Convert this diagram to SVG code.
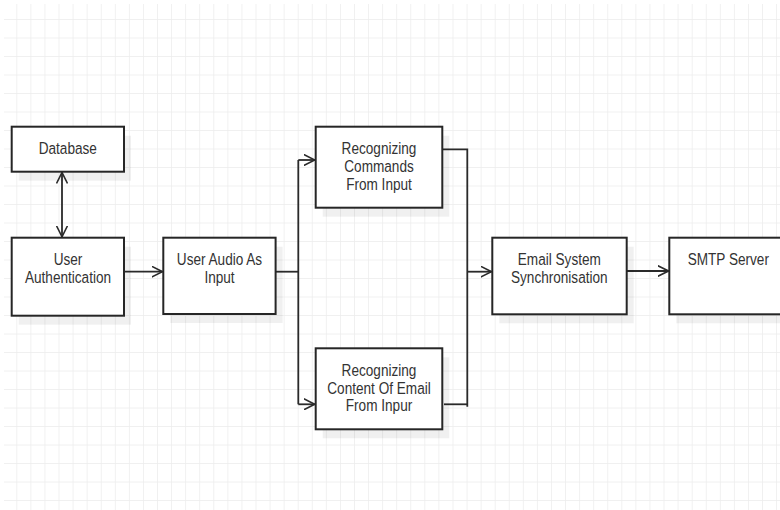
<svg xmlns="http://www.w3.org/2000/svg" width="780" height="510" viewBox="0 0 780 510">
<defs>
<pattern id="grid" x="3.2" y="1.5" width="14.07" height="18.5" patternUnits="userSpaceOnUse">
<path d="M14.07 0V18.5M0 18.5H14.07" fill="none" stroke="#ececec" stroke-width="1.4"/>
</pattern>
<marker id="arr" viewBox="0 0 12 12" refX="11" refY="6" markerWidth="12" markerHeight="12" markerUnits="userSpaceOnUse" orient="auto-start-reverse">
<path d="M0 0.5L11 6L0 11.5" fill="none" stroke="#2a2a2a" stroke-width="1.6"/>
</marker>
</defs>
<style>
.box{fill:#fff;stroke:#262626;stroke-width:2}
.sh{fill:#000;fill-opacity:0.06}
.t{font-family:"Liberation Sans",Arial,sans-serif;font-size:17px;fill:#333;text-anchor:middle}
.c{fill:none;stroke:#2a2a2a;stroke-width:1.8}
</style>
<rect width="780" height="510" fill="#fff"/>
<rect x="4" y="4" width="776" height="506" fill="url(#grid)"/>

<g id="connectors">
<path class="c" d="M62 172.5V236.8" marker-start="url(#arr)" marker-end="url(#arr)"/>
<path class="c" d="M122 271.7H162.5" marker-end="url(#arr)"/>
<path class="c" d="M275.7 271.7H298.3"/>
<path class="c" d="M298.3 160V404.3"/>
<path class="c" d="M298.3 160H314.8" marker-end="url(#arr)"/>
<path class="c" d="M298.3 404.3H314.8" marker-end="url(#arr)"/>
<path class="c" d="M442.3 149.3H467.3V406.7"/>
<path class="c" d="M444 404.3H467.3"/>
<path class="c" d="M467.3 271.7H491.5" marker-end="url(#arr)"/>
<path class="c" d="M626.7 271H668.5" marker-end="url(#arr)"/>
</g>

<g id="database">
<rect class="sh" x="18.7" y="135.7" width="112.3" height="45"/>
<rect class="box" x="11.7" y="126.7" width="112.3" height="45"/>
<text class="t" transform="translate(67.8 0) scale(0.8 1)" x="0" y="154">Database</text>
</g>

<g id="user-authentication">
<rect class="sh" x="18.7" y="246.7" width="112.3" height="78"/>
<rect class="box" x="11.7" y="237.7" width="112.3" height="78"/>
<text class="t" transform="translate(68 0) scale(0.8 1)" x="0" y="265">User</text>
<text class="t" transform="translate(68 0) scale(0.8 1)" x="0" y="283.3">Authentication</text>
</g>

<g id="user-audio">
<rect class="sh" x="170.3" y="246.7" width="112.3" height="76.3"/>
<rect class="box" x="163.3" y="237.7" width="112.3" height="76.3"/>
<text class="t" transform="translate(219.5 0) scale(0.8 1)" x="0" y="265">User Audio As</text>
<text class="t" transform="translate(219.5 0) scale(0.8 1)" x="0" y="283.3">Input</text>
</g>

<g id="recognizing-commands">
<rect class="sh" x="322.7" y="135.7" width="126.6" height="81"/>
<rect class="box" x="315.7" y="126.7" width="126.6" height="81"/>
<text class="t" transform="translate(379 0) scale(0.8 1)" x="0" y="154">Recognizing</text>
<text class="t" transform="translate(379 0) scale(0.8 1)" x="0" y="172.3">Commands</text>
<text class="t" transform="translate(379 0) scale(0.8 1)" x="0" y="190">From Input</text>
</g>

<g id="recognizing-content">
<rect class="sh" x="322.7" y="357.3" width="126.6" height="81"/>
<rect class="box" x="315.7" y="348.3" width="126.6" height="81"/>
<text class="t" transform="translate(379 0) scale(0.8 1)" x="0" y="375.7">Recognizing</text>
<text class="t" transform="translate(379 0) scale(0.8 1)" x="0" y="394">Content Of Email</text>
<text class="t" transform="translate(379 0) scale(0.8 1)" x="0" y="411.5">From Inpur</text>
</g>

<g id="email-sync">
<rect class="sh" x="499.3" y="246.7" width="134.4" height="76.6"/>
<rect class="box" x="492.3" y="237.7" width="134.4" height="76.6"/>
<text class="t" transform="translate(559.3 0) scale(0.8 1)" x="0" y="265">Email System</text>
<text class="t" transform="translate(559.3 0) scale(0.8 1)" x="0" y="283.3">Synchronisation</text>
</g>

<g id="smtp-server">
<rect class="sh" x="676.3" y="246.7" width="120" height="76.6"/>
<rect class="box" x="669.3" y="237.7" width="120" height="76.6"/>
<text class="t" transform="translate(728.3 0) scale(0.8 1)" x="0" y="265">SMTP Server</text>
</g>
</svg>
